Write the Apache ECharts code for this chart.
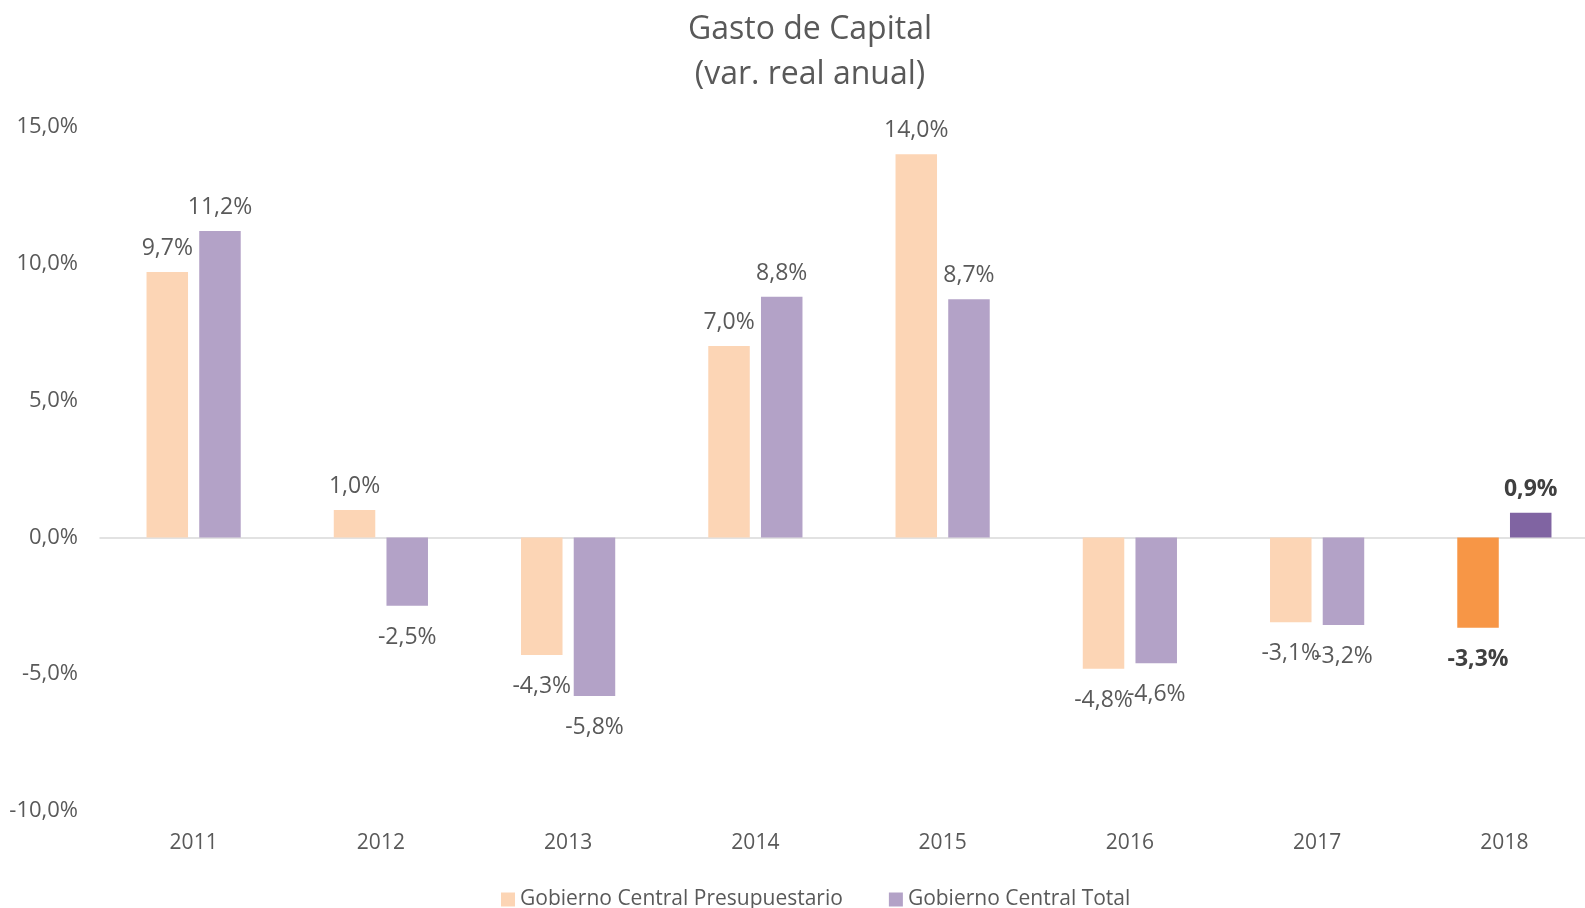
<!DOCTYPE html>
<html>
<head>
<meta charset="utf-8">
<script src="https://cdn.jsdelivr.net/npm/echarts@6/dist/echarts.min.js"></script>
<style>
  html, body { margin: 0; padding: 0; background: #fff; }
  #chart-container { width: 1585px; height: 908px; }
</style>
</head>
<body>
<div id="chart-container"></div>
<script>
// data
var years = ['2011', '2012', '2013', '2014', '2015', '2016', '2017', '2018'];
var presupuestario = [9.7, 1.0, -4.3, 7.0, 14.0, -4.8, -3.1, -3.3];
var total = [11.2, -2.5, -5.8, 8.8, 8.7, -4.6, -3.2, 0.9];
var NAME_PRES = 'Gobierno Central Presupuestario';
var NAME_TOTAL = 'Gobierno Central Total';

var FONT = '"Open Sans", sans-serif';
var TEXT_COLOR = '#595959';

function fmt(v) {
    return v.toFixed(1).replace('.', ',') + '%';
}

// last year is highlighted (darker colour, bold label)
function buildData(values, highlightColor) {
    return values.map(function (v, i) {
        var item = {
            value: v,
            label: v >= 0 ? { position: 'top', distance: 12 } : { position: 'bottom', distance: 20 }
        };
        if (i === values.length - 1) {
            item.itemStyle = { color: highlightColor };
            item.label.fontWeight = 'bold';
            item.label.color = '#404040';
        }
        return item;
    });
}

var myChart = echarts.init(document.getElementById('chart-container'));

var option = {
    backgroundColor: '#ffffff',
    animation: false,
    title: {
        text: 'Gasto de Capital\n(var. real anual)',
        left: 805,
        top: 2,
        textAlign: 'center',
        textStyle: {
            fontFamily: FONT,
            fontSize: 32,
            fontWeight: 'normal',
            color: TEXT_COLOR,
            lineHeight: 45
        }
    },
    legend: {
        top: 884,
        left: 496,
        itemWidth: 14,
        itemHeight: 14,
        itemGap: 46,
        icon: 'rect',
        textStyle: { fontFamily: FONT, fontSize: 21, color: TEXT_COLOR },
        data: [NAME_PRES, NAME_TOTAL]
    },
    grid: {
        left: 100,
        top: 127,
        width: 1498,
        height: 684,
        outerBoundsMode: 'none'
    },
    xAxis: [{
        type: 'category',
        data: years,
        axisLine: { show: false, onZero: false },
        axisTick: { show: false },
        axisLabel: {
            margin: 22,
            fontFamily: FONT,
            fontSize: 21,
            color: TEXT_COLOR
        }
    }, {
        type: 'category',
        data: years,
        axisLine: { show: true, onZero: true, lineStyle: { color: '#d9d9d9', width: 1.5 } },
        axisTick: { show: false },
        axisLabel: { show: false }
    }],
    yAxis: {
        type: 'value',
        min: -10,
        max: 15,
        interval: 5,
        splitLine: { show: false },
        axisLine: { show: false },
        axisTick: { show: false },
        axisLabel: {
            margin: 22,
            fontFamily: FONT,
            fontSize: 22,
            color: TEXT_COLOR,
            formatter: function (v) { return fmt(v); }
        }
    },
    series: [{
        name: NAME_PRES,
        type: 'bar',
        xAxisIndex: 0,
        barWidth: 41.5,
        barGap: '27%',
        itemStyle: { color: '#FCD5B5' },
        label: {
            show: true,
            fontFamily: FONT,
            fontSize: 23,
            color: TEXT_COLOR,
            formatter: function (p) { return fmt(p.value); }
        },
        data: buildData(presupuestario, '#F79646')
    }, {
        name: NAME_TOTAL,
        type: 'bar',
        xAxisIndex: 0,
        barWidth: 41.5,
        barGap: '27%',
        itemStyle: { color: '#B3A2C7' },
        label: {
            show: true,
            fontFamily: FONT,
            fontSize: 23,
            color: TEXT_COLOR,
            formatter: function (p) { return fmt(p.value); }
        },
        data: buildData(total, '#8064A2')
    }]
};

if (option && typeof option === "object") {
    myChart.setOption(option, true);
}
</script>
</body>
</html>
